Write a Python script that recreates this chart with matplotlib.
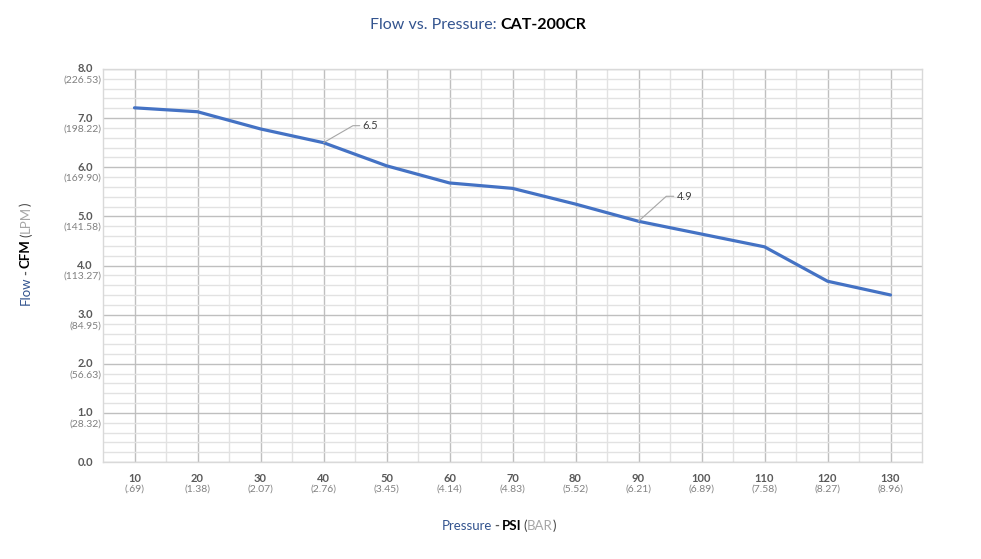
import matplotlib
matplotlib.use('Agg')
import matplotlib.pyplot as plt
import matplotlib.transforms as mtransforms
from matplotlib.ticker import FixedLocator, MultipleLocator

plt.rcParams['font.family'] = ['Lato', 'DejaVu Sans']

# ---- data ----
psi = [10, 20, 30, 40, 50, 60, 70, 80, 90, 100, 110, 120, 130]
bar = ['.69', '1.38', '2.07', '2.76', '3.45', '4.14', '4.83', '5.52', '6.21',
       '6.89', '7.58', '8.27', '8.96']
cfm = [7.21, 7.13, 6.78, 6.50, 6.03, 5.68, 5.57, 5.25, 4.90, 4.64, 4.38, 3.68, 3.40]
y_ticks = [0, 1, 2, 3, 4, 5, 6, 7, 8]
lpm = ['', '28.32', '56.63', '84.95', '113.27', '141.58', '169.90', '198.22', '226.53']
labeled_psi = [40, 90]

W, H = 981, 559
fig = plt.figure(figsize=(W / 100, H / 100), dpi=100)
ax = fig.add_axes([103 / W, 1 - 462 / H, (922 - 103) / W, (462 - 69) / H])

xs = list(range(len(psi)))
ax.plot(xs, cfm, color='#4472C4', lw=2.3, solid_capstyle='round',
        solid_joinstyle='round', zorder=3)
ax.set_xlim(-0.5, len(psi) - 0.5)
ax.set_ylim(y_ticks[0], y_ticks[-1])

ax.xaxis.set_major_locator(FixedLocator(xs))
ax.xaxis.set_minor_locator(FixedLocator([i + 0.5 for i in xs[:-1]]))
ax.yaxis.set_major_locator(FixedLocator(y_ticks))
ax.yaxis.set_minor_locator(MultipleLocator(0.2))
ax.grid(which='major', color='#BFBFBF', lw=1.0)
ax.grid(which='minor', color='#E2E2E2', lw=1.0)
ax.set_axisbelow(True)
ax.tick_params(which='both', length=0, labelbottom=False, labelleft=False)
for s in ax.spines.values():
    s.set_color('#D9D9D9')
    s.set_linewidth(1.0)

# ---- tick labels ----
xt = ax.get_xaxis_transform()
for i, (p, b) in enumerate(zip(psi, bar)):
    ax.text(i, 0, str(p), transform=mtransforms.offset_copy(xt, fig=fig, x=0, y=-16, units='dots'),
            ha='center', va='center', fontsize=8, fontweight='bold', color='#595959')
    ax.text(i, 0, '(' + b + ')', transform=mtransforms.offset_copy(xt, fig=fig, x=0, y=-27, units='dots'),
            ha='center', va='center', fontsize=7.5, color='#808080')

yt = ax.get_yaxis_transform()
for v, l in zip(y_ticks, lpm):
    ax.text(0, v, f'{v:.1f}', transform=mtransforms.offset_copy(yt, fig=fig, x=-10, y=0, units='dots'),
            ha='right', va='center', fontsize=8, fontweight='bold', color='#595959')
    if l:
        ax.text(0, v, '(' + l + ')', transform=mtransforms.offset_copy(yt, fig=fig, x=-2, y=-11, units='dots'),
                ha='right', va='center', fontsize=7.5, color='#808080')

# ---- data labels ----
label_offsets = {40: (39, 17, 30), 90: (38, 25, 42)}
for p in labeled_psi:
    i = psi.index(p)
    dx, dy, ang = label_offsets[p]
    ax.annotate(f'{cfm[i]:.1f}', xy=(i, cfm[i]), xytext=(dx, dy), textcoords='offset pixels',
                ha='left', va='center', fontsize=8, color='#404040',
                arrowprops=dict(arrowstyle='-', color='#A6A6A6', lw=0.8, shrinkA=0, shrinkB=0,
                                relpos=(0, 0.5),
                                connectionstyle=f'angle,angleA=0,angleB={ang},rad=0'))

# ---- rich text helper ----
renderer = fig.canvas.get_renderer()
ident = mtransforms.IdentityTransform()


def rich(cx, cy, parts, size, rotation=0, gapscale=0.6):
    """cx, cy: centre along the text direction / baseline position (image px, top-left origin)."""
    probe1 = fig.text(0, 0, 'a a', fontsize=size, transform=ident)
    probe2 = fig.text(0, 0, 'aa', fontsize=size, transform=ident)
    sp = probe1.get_window_extent(renderer).width - probe2.get_window_extent(renderer).width
    sp *= gapscale
    probe1.remove(); probe2.remove()
    items = []
    total = 0
    for s, color, weight, gap in parts:
        t = fig.text(0, 0, s, fontsize=size, color=color, fontweight=weight, rotation=rotation,
                     rotation_mode='anchor', ha='left', va='baseline', transform=ident)
        bb = t.get_window_extent(renderer)
        L = bb.width if rotation == 0 else bb.height
        g = sp if gap else 0
        items.append((t, g, L))
        total += g + L
    if rotation == 0:
        pos = cx - total / 2
        for t, g, L in items:
            pos += g
            t.set_position((pos, H - cy))
            pos += L
    else:
        pos = (H - cy) - total / 2
        for t, g, L in items:
            pos += g
            t.set_position((cx, pos))
            pos += L


blue = '#33548F'
rich(478, 29, [('Flow vs. Pressure:', blue, 'normal', False),
               ('CAT-200CR', '#000000', 'bold', True)], 11.5, gapscale=1.0)
rich(499, 530, [('Pressure', blue, 'normal', False),
                ('-', '#595959', 'bold', True),
                ('PSI', '#000000', 'bold', True),
                ('(', '#404040', 'normal', True),
                ('BAR', '#A6A6A6', 'normal', False),
                (')', '#404040', 'normal', False)], 9.5)
rich(30, 254, [('Flow', blue, 'normal', False),
               ('-', '#595959', 'bold', True),
               ('CFM', '#000000', 'bold', True),
               ('(', '#404040', 'normal', True),
               ('LPM', '#A6A6A6', 'normal', False),
               (')', '#404040', 'normal', False)], 9.5, rotation=90)

fig.savefig('out.png', dpi=100, facecolor='white')
